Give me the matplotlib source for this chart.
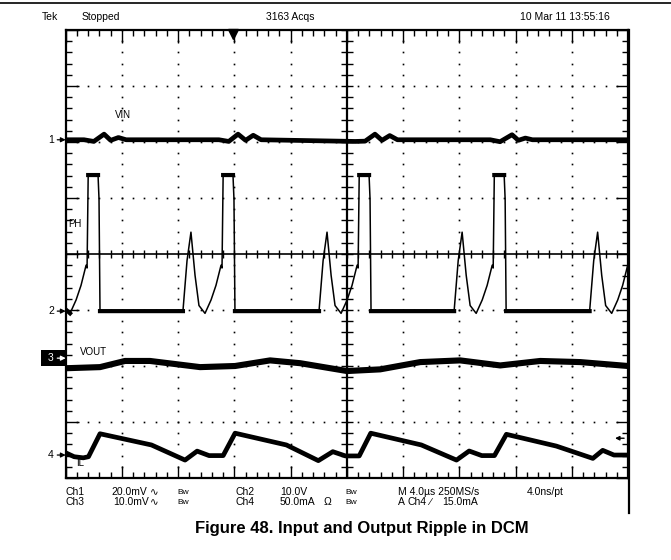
import numpy as np
import matplotlib
matplotlib.use("Agg")
import matplotlib.pyplot as plt

plt.rcParams["font.family"] = ["Liberation Sans", "DejaVu Sans"]

# ---- data (time in us) ----
# CH2: switch node PH (V)
ph_t = [0.0, 0.31, 0.74, 1.09, 1.45, 1.52, 1.60, 2.30, 2.37, 2.44,
        8.34, 8.63, 8.91, 9.20, 9.48, 9.91, 10.34, 10.69, 11.05, 11.12, 11.20, 11.90, 11.97, 12.04,
        18.02, 18.31, 18.59, 18.88, 19.16, 19.59, 20.02, 20.37, 20.73, 20.80, 20.88, 21.58, 21.65, 21.72,
        27.63, 27.92, 28.20, 28.49, 28.77, 29.20, 29.63, 29.98, 30.34, 30.41, 30.49, 31.19, 31.26, 31.33,
        37.27, 37.56, 37.84, 38.13, 38.41, 38.84, 39.27, 39.62, 39.98, 40.0]
ph_v = [0.3, -0.4, 2.0, 4.6, 8.2, 7.7, 24.3, 24.3, 20.0, 0.0,
        0.0, 9.0, 14.1, 6.4, 1.0, -0.4, 2.0, 4.6, 8.2, 7.7, 24.3, 24.3, 20.0, 0.0,
        0.0, 9.0, 14.1, 6.4, 1.0, -0.4, 2.0, 4.6, 8.2, 7.7, 24.3, 24.3, 20.0, 0.0,
        0.0, 9.0, 14.1, 6.4, 1.0, -0.4, 2.0, 4.6, 8.2, 7.7, 24.3, 24.3, 20.0, 0.0,
        0.0, 9.0, 14.1, 6.4, 1.0, -0.4, 2.0, 4.6, 8.2, 8.2]

# CH1: input ripple VIN (mV)
vin_t = [0.0, 1.3, 2.0, 2.73, 3.2, 3.75, 4.3,
         10.9, 11.6, 12.26, 12.8, 13.34, 13.9,
         20.6, 21.3, 22.0, 22.5, 23.05, 23.6,
         30.2, 30.9, 31.75, 32.2, 32.7, 33.2, 40.0]
vin_mv = [0.0, 0.0, -0.6, 2.0, -0.2, 0.8, 0.0,
          0.0, -0.6, 2.0, -0.2, 1.6, 0.0,
          -0.6, -0.5, 2.0, -0.2, 1.5, 0.0,
          0.0, -0.7, 1.8, -0.2, 0.6, 0.0, 0.0]

# CH3: output ripple VOUT (mV)
vout_t = [0.0, 2.44, 4.22, 6.0, 9.56, 12.05, 14.54, 16.68, 20.02, 22.37,
          25.22, 28.06, 30.91, 33.76, 36.6, 40.0]
vout_mv = [-1.8, -1.6, -0.5, -0.5, -1.6, -1.4, -0.4, -0.9, -2.3, -2.0,
           -0.7, -0.4, -1.3, -0.5, -0.7, -1.4]

# CH4: inductor current IL (mA)
il_t = [0.0, 0.6, 1.25, 1.62, 2.44, 6.1, 8.49, 9.35, 10.2, 11.2,
        12.05, 15.7, 17.97, 19.0, 19.9, 20.88, 21.7, 25.3, 27.8, 28.7,
        29.6, 30.5, 31.35, 34.9, 37.5, 38.2, 39.0, 40.0]
il_ma = [2.0, -1.5, -2.5, -1.5, 19.0, 9.0, -4.5, 3.5, -0.5, -0.5,
         19.5, 9.0, -5.0, 3.0, -0.8, -0.8, 19.5, 9.0, -4.5, 3.6,
         -0.5, -0.5, 18.5, 8.0, -3.0, 4.2, 0.0, 0.0]

# ---- figure / graticule ----
W, H = 671, 560
fig = plt.figure(figsize=(W / 100, H / 100), dpi=100)


def fx(x):
    return x / W


def fy(y):
    return 1 - y / H


left, right, top, bottom = 65.7, 628.0, 30.0, 478.0
ax = fig.add_axes([fx(left), fy(bottom), (right - left) / W, (bottom - top) / H])
ax.set_xlim(0, 10)
ax.set_ylim(-4, 4)
for s in ax.spines.values():
    s.set_linewidth(1.6)
ax.set_xticks(np.arange(0, 11, 1))
ax.set_yticks(np.arange(-4, 5, 1))
ax.set_xticks(np.arange(0, 10.01, 0.2), minor=True)
ax.set_yticks(np.arange(-4, 4.01, 0.2), minor=True)
ax.tick_params(which="both", direction="in", top=True, right=True,
               labelbottom=False, labelleft=False, width=1.0)
ax.tick_params(which="major", length=9)
ax.tick_params(which="minor", length=4)

# dotted grid
for gx in range(1, 10):
    if gx != 5:
        ys = np.arange(-4, 4.01, 0.2)
        ax.plot(np.full_like(ys, gx), ys, ls="none", marker="s", ms=1.2, color="black", mew=0)
for gy in range(-3, 4):
    if gy != 0:
        xs = np.arange(0, 10.01, 0.2)
        ax.plot(xs, np.full_like(xs, gy), ls="none", marker="s", ms=1.2, color="black", mew=0)

# center crosshair with ticks
ax.axhline(0, color="black", lw=1.2)
ax.axvline(5, color="black", lw=1.6)
xs = np.arange(0, 10.01, 0.2)
ax.plot(xs, np.zeros_like(xs), ls="none", marker="|", ms=6, mew=1.0, color="black")
ys = np.arange(-4, 4.01, 0.2)
ax.plot(np.full_like(ys, 5), ys, ls="none", marker="_", ms=8, mew=1.0, color="black")

# ---- traces ----
off1, off2, off3, off4 = 2.04, -1.02, -1.86, -3.59
sc1, sc2, sc3, sc4 = 20.0, 10.0, 10.0, 50.0  # per division


def tdiv(t):
    return np.asarray(t) / 4.0


ax.plot(tdiv(vin_t), off1 + np.asarray(vin_mv) / sc1, color="black", lw=3.4,
        solid_joinstyle="round")

ph_y = off2 + np.asarray(ph_v) / sc2
ax.plot(tdiv(ph_t), ph_y, color="black", lw=1.1)
flat = np.where((np.abs(np.asarray(ph_v)) < 0.5) | (np.asarray(ph_v) > 24), ph_y, np.nan)
ax.plot(tdiv(ph_t), flat, color="black", lw=3.0)

ax.plot(tdiv(vout_t), off3 + np.asarray(vout_mv) / sc3, color="black", lw=4.4,
        solid_joinstyle="round")
ax.plot(tdiv(il_t), off4 + np.asarray(il_ma) / sc4, color="black", lw=3.4,
        solid_joinstyle="round")

# on-screen labels
ax.text(0.88, 2.48, "VIN", fontsize=7, va="center", ha="left")
ax.text(0.04, 0.54, "PH", fontsize=7, va="center", ha="left")
ax.text(0.25, -1.75, "VOUT", fontsize=7, va="center", ha="left")
ax.text(0.18, -3.73, "IL", fontsize=7, va="center", ha="left")

# trigger position and level markers
ax.plot([2.98], [3.93], marker="v", ms=7, color="black", clip_on=False)
ax.annotate("", xy=(9.72, -3.29), xytext=(9.98, -3.29),
            arrowprops=dict(arrowstyle="-|>", lw=1.0, color="black", mutation_scale=6))

# channel ground markers on the left
for lab, yy in (("1", off1), ("2", off2), ("4", off4)):
    fig.text(fx(48), fy(254 - yy * 56), lab, fontsize=7.5, va="center", ha="left")
    ax.annotate("", xy=(0, yy), xytext=(-0.15, yy), annotation_clip=False,
                arrowprops=dict(arrowstyle="-|>", lw=0.9, color="black", mutation_scale=7,
                                shrinkA=0, shrinkB=0))
y3 = 254 - off3 * 56
fig.add_artist(plt.Rectangle((fx(41), fy(y3 + 8)), fx(24.7), 16 / H, fc="black", ec="none",
                             zorder=-1))
fig.text(fx(48), fy(y3), "3", fontsize=7.5, va="center", ha="left", color="white")
ax.annotate("", xy=(0, off3), xytext=(-0.15, off3), annotation_clip=False,
            arrowprops=dict(arrowstyle="-|>", lw=0.9, color="white", mutation_scale=7,
                            shrinkA=0, shrinkB=0))

# header
fig.add_artist(plt.Line2D([0, 1], [fy(3), fy(3)], color="black", lw=1.2))
fig.add_artist(plt.Line2D([fx(629), fx(629)], [fy(30), fy(513)], color="black", lw=1.6))
hy = fy(17)
fig.text(fx(42), hy, "Tek", fontsize=7.5, va="center")
fig.text(fx(82), hy, "Stopped", fontsize=7.5, va="center")
fig.text(fx(266), hy, "3163 Acqs", fontsize=7.5, va="center")
fig.text(fx(520), hy, "10 Mar 11 13:55:16", fontsize=7.5, va="center")

# readout rows
r1, r2 = fy(492), fy(502)
fs = 7.5
for x, y, s in [(66, r1, "Ch1"), (111, r1, "20.0mV"), (150, r1, "\u223f"), (235, r1, "Ch2"),
                (280, r1, "10.0V"), (398, r1, "M 4.0\u00b5s 250MS/s"), (527, r1, "4.0ns/pt"),
                (66, r2, "Ch3"), (113, r2, "10.0mV"), (150, r2, "\u223f"), (235, r2, "Ch4"),
                (280, r2, "50.0mA"), (324, r2, "\u03a9"), (398, r2, "A"), (408, r2, "Ch4"),
                (429, r2, "\u2215"), (442, r2, "15.0mA")]:
    fig.text(fx(x), y, s, fontsize=fs, va="center", ha="left")
for x, y in [(177, r1), (345, r1), (177, r2), (345, r2)]:
    fig.text(fx(x), y, "Bw", fontsize=6, va="center", ha="left")

fig.text(fx(362), fy(528), "Figure 48. Input and Output Ripple in DCM", fontsize=12,
         fontweight="bold", ha="center", va="center")

fig.savefig("out.png", dpi=100)
